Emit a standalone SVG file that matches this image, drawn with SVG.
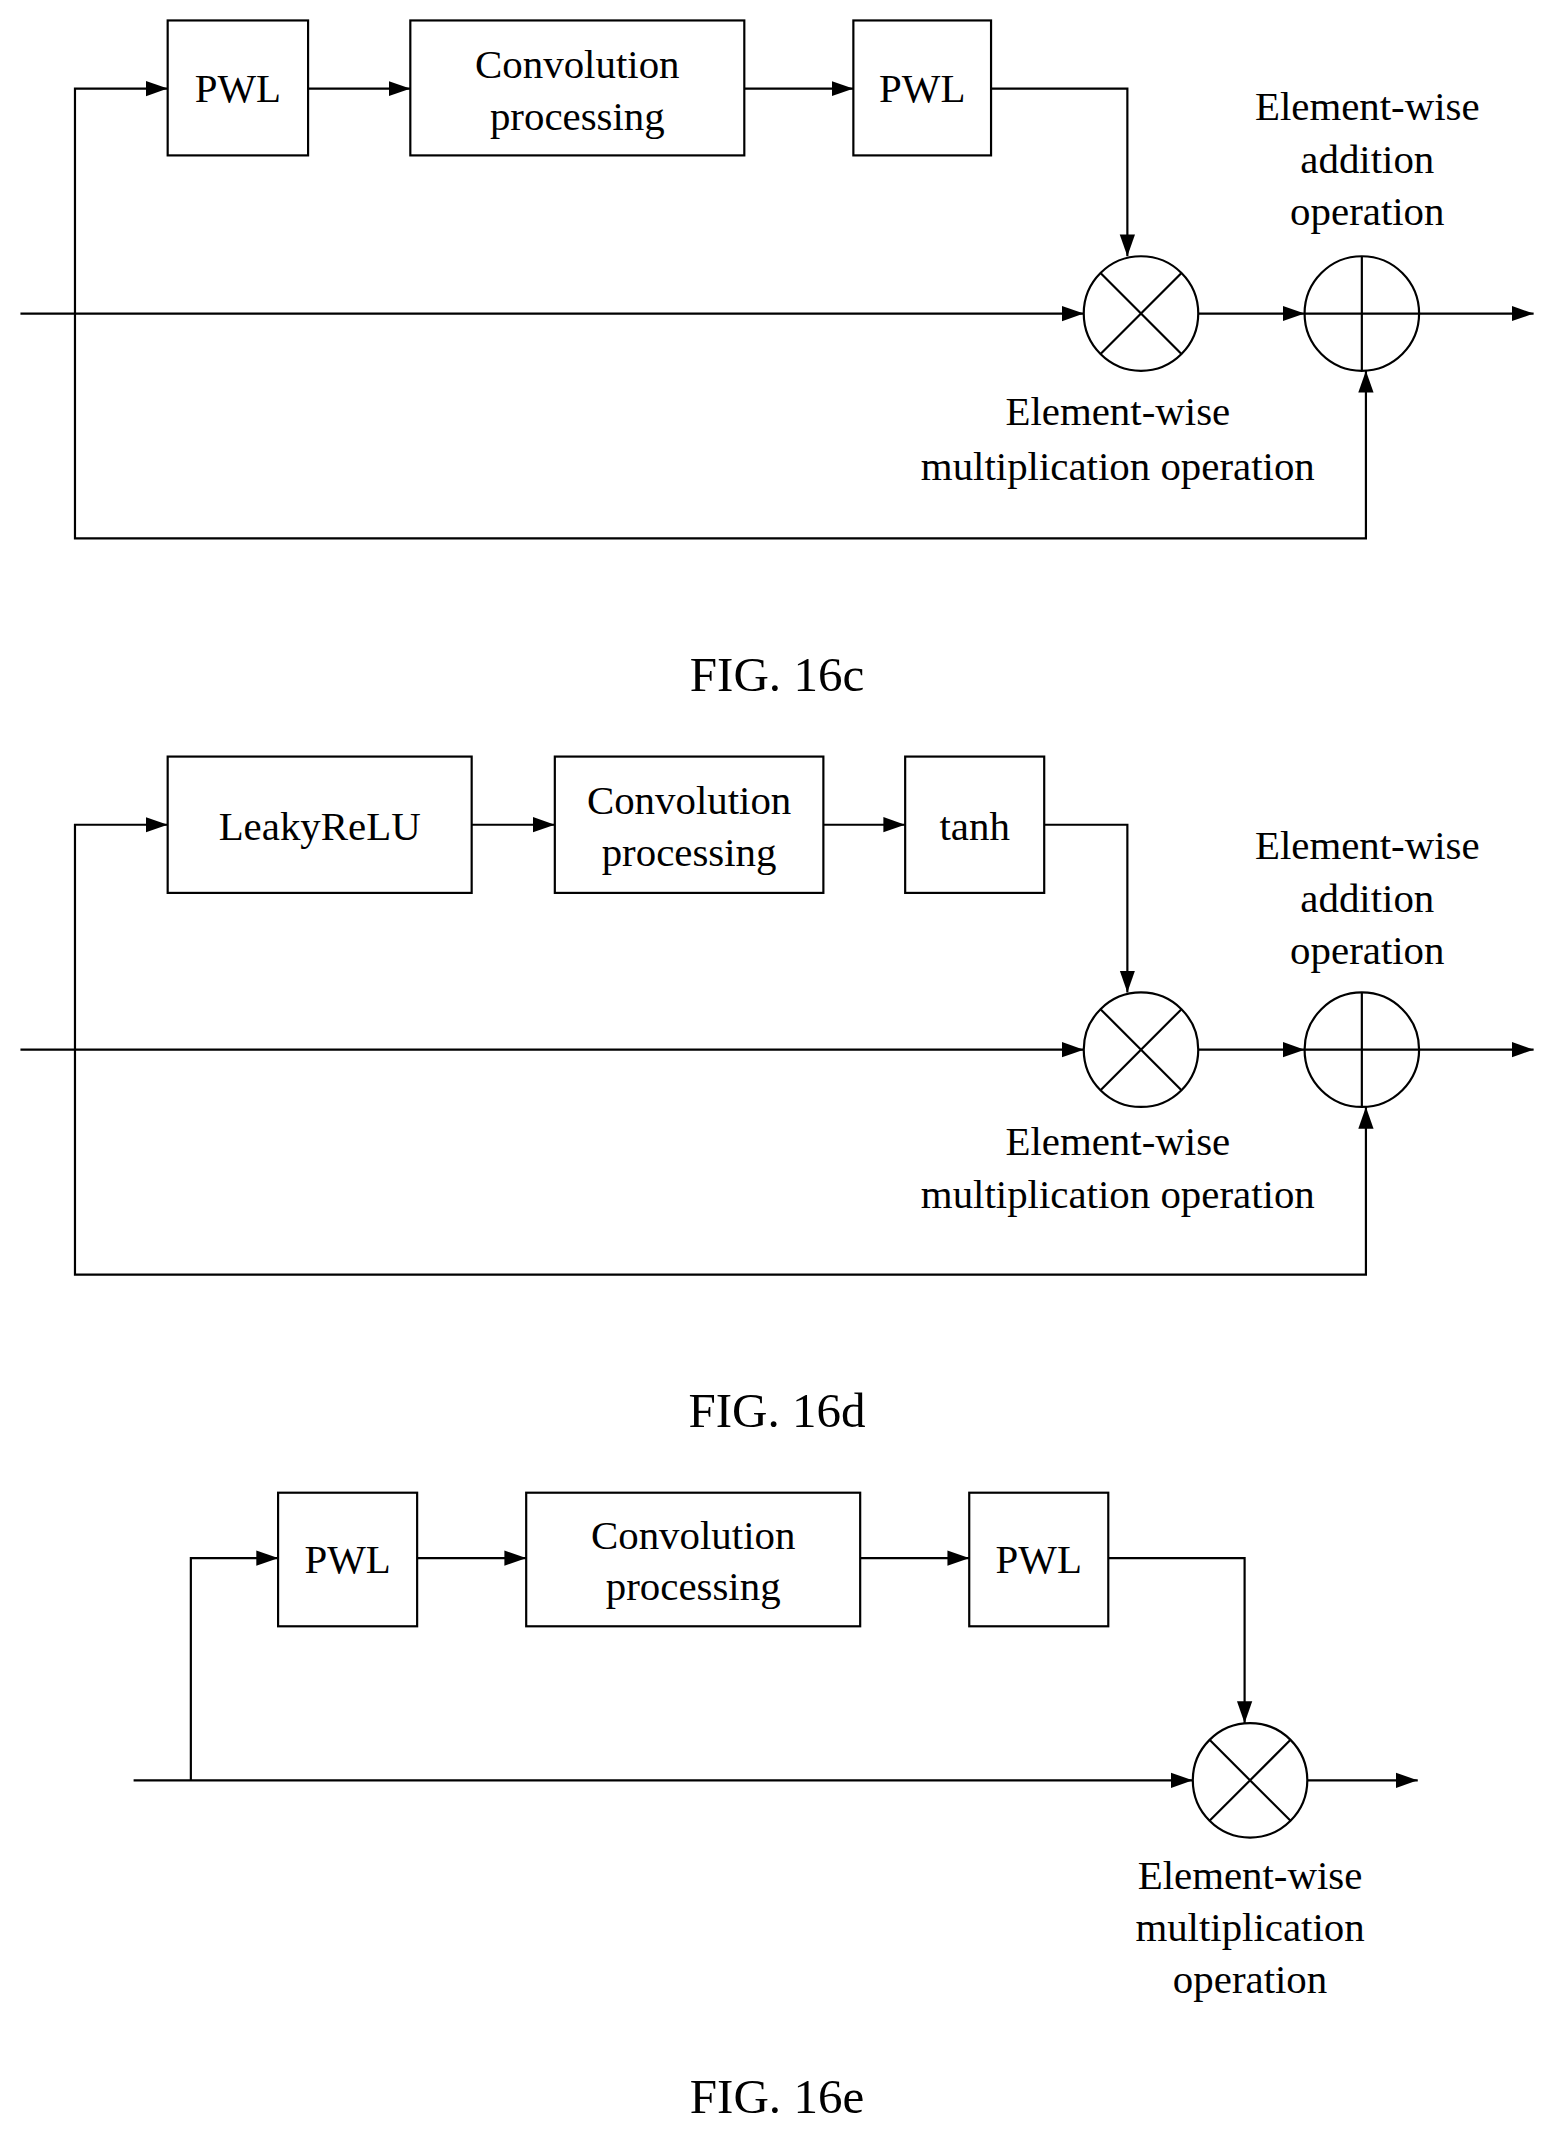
<svg xmlns="http://www.w3.org/2000/svg" width="1554" height="2138" viewBox="0 0 1554 2138">
<style>
.b{fill:#fff;stroke:#000;stroke-width:1.6}
.l{fill:none;stroke:#000;stroke-width:1.6}
text{font-family:"Liberation Serif",serif;font-size:30px;text-anchor:middle;fill:#000}
.f{font-size:36px}
</style>
<defs><marker id="a" viewBox="0 0 10 10" refX="10" refY="5" markerWidth="16" markerHeight="16" markerUnits="userSpaceOnUse" orient="auto"><path d="M0,1.5 L10,5 L0,8.5Z"/></marker></defs>
<rect width="1554" height="2138" fill="#fff"/>
<g transform="scale(1.3632)">
<g id="connectors">
<path class="l" d="M15,230 H795" marker-end="url(#a)"/>
<path class="l" d="M55,230 V65 H123" marker-end="url(#a)"/>
<path class="l" d="M226,65 H301" marker-end="url(#a)"/>
<path class="l" d="M546,65 H626" marker-end="url(#a)"/>
<path class="l" d="M727,65 H827 V188" marker-end="url(#a)"/>
<path class="l" d="M879,230 H957" marker-end="url(#a)"/>
<path class="l" d="M1041,230 H1125" marker-end="url(#a)"/>
<path class="l" d="M55,230 V395 H1002 V272" marker-end="url(#a)"/>
<path class="l" d="M15,770 H795" marker-end="url(#a)"/>
<path class="l" d="M55,770 V605 H123" marker-end="url(#a)"/>
<path class="l" d="M346,605 H407" marker-end="url(#a)"/>
<path class="l" d="M604,605 H664" marker-end="url(#a)"/>
<path class="l" d="M766,605 H827 V728" marker-end="url(#a)"/>
<path class="l" d="M879,770 H957" marker-end="url(#a)"/>
<path class="l" d="M1041,770 H1125" marker-end="url(#a)"/>
<path class="l" d="M55,770 V935 H1002 V812" marker-end="url(#a)"/>
<path class="l" d="M98,1306 H875" marker-end="url(#a)"/>
<path class="l" d="M140,1306 V1143 H204" marker-end="url(#a)"/>
<path class="l" d="M306,1143 H386" marker-end="url(#a)"/>
<path class="l" d="M631,1143 H711" marker-end="url(#a)"/>
<path class="l" d="M813,1143 H913 V1264" marker-end="url(#a)"/>
<path class="l" d="M959,1306 H1040" marker-end="url(#a)"/>
</g>
<g id="c_pwl1"><rect class="b" x="123" y="15" width="103" height="99"/><text x="174.5" y="75">PWL</text></g>
<g id="c_conv"><rect class="b" x="301" y="15" width="245" height="99"/><text x="423.5" y="57">Convolution</text><text x="423.5" y="95">processing</text></g>
<g id="c_pwl2"><rect class="b" x="626" y="15" width="101" height="99"/><text x="676.5" y="75">PWL</text></g>
<g id="c_mul"><circle class="b" cx="837" cy="230" r="42"/><path class="l" d="M807.3,200.3 L866.7,259.7 M866.7,200.3 L807.3,259.7"/></g>
<g id="c_add"><circle class="b" cx="999" cy="230" r="42"/><path class="l" d="M957,230 H1041 M999,188 V272"/></g>
<g id="c_labels"><text x="1003" y="88">Element-wise</text><text x="1003" y="127">addition</text><text x="1003" y="165">operation</text><text x="820" y="312">Element-wise</text><text x="820" y="352">multiplication operation</text><text class="f" x="570" y="507">FIG. 16c</text></g>

<g id="d_leaky"><rect class="b" x="123" y="555" width="223" height="100"/><text x="234.5" y="616">LeakyReLU</text></g>
<g id="d_conv"><rect class="b" x="407" y="555" width="197" height="100"/><text x="505.5" y="597">Convolution</text><text x="505.5" y="635">processing</text></g>
<g id="d_tanh"><rect class="b" x="664" y="555" width="102" height="100"/><text x="715" y="616">tanh</text></g>
<g id="d_mul"><circle class="b" cx="837" cy="770" r="42"/><path class="l" d="M807.3,740.3 L866.7,799.7 M866.7,740.3 L807.3,799.7"/></g>
<g id="d_add"><circle class="b" cx="999" cy="770" r="42"/><path class="l" d="M957,770 H1041 M999,728 V812"/></g>
<g id="d_labels"><text x="1003" y="630">Element-wise</text><text x="1003" y="669">addition</text><text x="1003" y="707">operation</text><text x="820" y="847">Element-wise</text><text x="820" y="886">multiplication operation</text><text class="f" x="570" y="1047">FIG. 16d</text></g>

<g id="e_pwl1"><rect class="b" x="204" y="1095" width="102" height="98"/><text x="255" y="1154">PWL</text></g>
<g id="e_conv"><rect class="b" x="386" y="1095" width="245" height="98"/><text x="508.5" y="1136">Convolution</text><text x="508.5" y="1174">processing</text></g>
<g id="e_pwl2"><rect class="b" x="711" y="1095" width="102" height="98"/><text x="762" y="1154">PWL</text></g>
<g id="e_mul"><circle class="b" cx="917" cy="1306" r="42"/><path class="l" d="M887.3,1276.3 L946.7,1335.7 M946.7,1276.3 L887.3,1335.7"/></g>
<g id="e_labels"><text x="917" y="1386">Element-wise</text><text x="917" y="1424">multiplication</text><text x="917" y="1462">operation</text><text class="f" x="570" y="1550">FIG. 16e</text></g>
</g>
</svg>
